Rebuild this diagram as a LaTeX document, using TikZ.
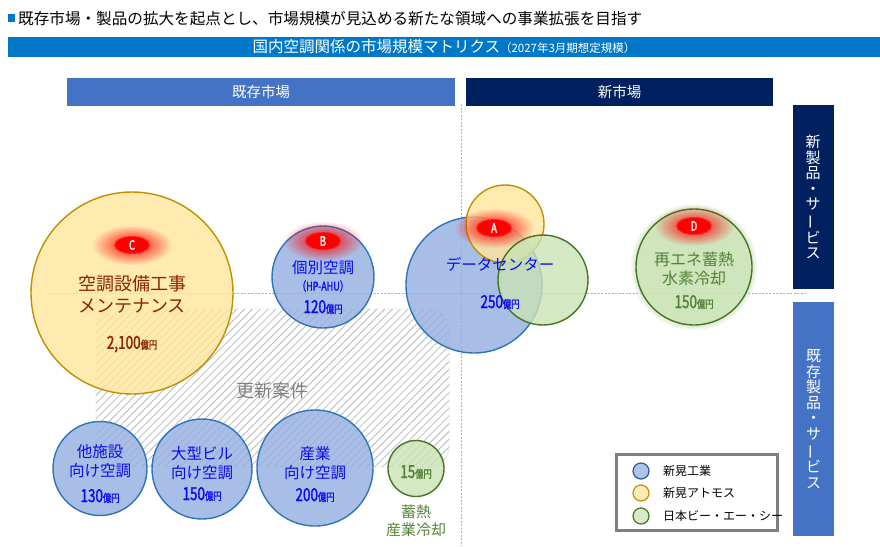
\documentclass[tikz,border=0pt]{standalone}
\usepackage{fontspec}
\setmainfont{Noto Sans CJK JP}
\newfontfamily\numfont{Noto Sans CJK JP}[FakeStretch=0.75,FakeBold=1.5]
\usepackage{tikz}
\usetikzlibrary{fadings,patterns.meta}

\definecolor{titleblue}{RGB}{0,120,200}
\definecolor{oldblue}{RGB}{68,114,196}
\definecolor{navy}{RGB}{0,32,96}
\definecolor{sbfill}{RGB}{148,174,224}
\definecolor{sbline}{RGB}{46,117,182}
\definecolor{ayfill}{RGB}{255,229,156}
\definecolor{ayline}{RGB}{191,144,0}
\definecolor{bacfill}{RGB}{202,226,181}
\definecolor{bacline}{RGB}{70,115,40}
\definecolor{bactext}{RGB}{84,130,53}
\definecolor{sbtext}{RGB}{10,10,240}
\definecolor{aytext}{RGB}{140,36,0}
\definecolor{guide}{RGB}{175,175,175}

\tikzfading[name=blobfade, inner color=transparent!0, outer color=transparent!100]

\newcommand{\okuen}[1]{{\numfont\fontsize{18}{18}\selectfont #1}{\numfont\fontsize{11}{11}\selectfont 億円}}
\newcommand{\tatebar}{\rotatebox[origin=c]{90}{ー}}

\tikzset{
  header/.style={fill=#1, text=white, minimum height=28pt, inner sep=0pt, font=\fontsize{14.5}{14.5}\selectfont},
  sidebar/.style={fill=#1, text=white, minimum width=41pt, inner sep=0pt, align=center, font=\fontsize{15}{15.6}\selectfont},
  bubble/.style={circle, inner sep=0pt, line width=1.4pt, fill opacity=0.8},
  sbbubble/.style={bubble, draw=sbline, fill=sbfill},
  aybubble/.style={bubble, draw=ayline, fill=ayfill},
  bacbubble/.style={bubble, draw=bacline, fill=bacfill},
  blobhalo/.style={red, path fading=blobfade},
  blobtag/.style={text=white, inner sep=0pt, font=\numfont\fontsize{13}{13}\selectfont},
  sblabel/.style={text=sbtext, align=center, inner sep=0pt, font=\fontsize{15.5}{19}\selectfont},
  keydot/.style={circle, inner sep=0pt, minimum size=16pt, line width=1.2pt},
  keytext/.style={anchor=west, inner sep=0pt, font=\fontsize{12}{12}\selectfont},
  guideline/.style={guide, line width=0.8pt, dash pattern=on 2pt off 1.5pt}
}

\newcommand{\redblob}[2]{%
  \fill[blobhalo] (#1,#2) ellipse [x radius=40pt, y radius=20pt];
  \fill[red, opacity=0.6] (#1,#2) ellipse [x radius=18pt, y radius=9pt];
  \fill[red] (#1,#2) ellipse [x radius=16.5pt, y radius=8pt];}

\begin{document}
\begin{tikzpicture}[x=1pt, y=-1pt]
\useasboundingbox (0,0) rectangle (880,546);

\fill[titleblue] (8,14) rectangle (15,22);
\node[anchor=west, inner sep=0pt, font=\fontsize{15.6}{16}\selectfont] (title) at (18,19) {既存市場・製品の拡大を起点とし、市場規模が見込める新たな領域への事業拡張を目指す};
\node[fill=titleblue, text=white, minimum width=872pt, minimum height=20pt, inner sep=0pt] (banner) at (444,47) {\fontsize{15.5}{15.5}\selectfont 国内空調関係の市場規模マトリクス{\fontsize{11.5}{11.5}\selectfont （2027年3月期想定規模）}};

\node[header=oldblue, minimum width=388pt] (oldmarket) at (261,92) {既存市場};
\node[header=navy, minimum width=307pt] (newmarket) at (619.5,92) {新市場};
\node[sidebar=navy, minimum height=184pt] (newprod) at (813,197) {新\\製\\品\\・\\サ\\\tatebar\\ビ\\ス};
\node[sidebar=oldblue, minimum height=234pt] (oldprod) at (813.5,419) {既\\存\\製\\品\\・\\サ\\\tatebar\\ビ\\ス};

\draw[guideline] (461,104) -- (461,546);
\draw[guideline] (48,293) -- (806,293);

\draw[draw=gray!35, pattern={Lines[angle=45, distance=5.5pt, line width=0.8pt]}, pattern color=gray!55, rounded corners=20pt] (96,309) rectangle (449,467);
\node[text=gray, font=\fontsize{18}{18}\selectfont] (renewal) at (272,391) {更新案件};

\node[aybubble, minimum size=202pt] (maint) at (132,293) {};
\redblob{132}{245}
\node[blobtag] (tagC) at (132,245) {C};
\node[text=aytext, align=center, inner sep=0pt, font=\fontsize{18}{22}\selectfont] (maintlabel) at (132,294) {空調設備工事\\メンテナンス};
\node[text=aytext, inner sep=0pt] (maintsize) at (132,344) {\okuen{2,100}};

\node[sbbubble, minimum size=102pt] (split) at (323,277) {};
\redblob{323}{241}
\node[blobtag] (tagB) at (323,241) {B};
\node[sblabel] (splitlabel) at (323,268) {個別空調};
\node[text=sbtext, inner sep=0pt, font=\numfont\fontsize{12}{12}\selectfont] (splitsub) at (323,286) {（HP-AHU）};
\node[text=sbtext, inner sep=0pt] (splitsize) at (323,307) {\okuen{120}};

\node[sbbubble, minimum size=136pt] (dcsb) at (474,285) {};
\node[aybubble, minimum size=78pt] (dcay) at (505,224) {};
\node[bacbubble, minimum size=90pt] (dcbac) at (543,280) {};
\redblob{494}{228}
\node[blobtag] (tagA) at (494,228) {A};
\node[sblabel] (dclabel) at (500,264) {データセンター};
\node[text=sbtext, inner sep=0pt] (dcsize) at (500,302) {\okuen{250}};

\fill[bacfill, opacity=0.25] (694,267) circle (63pt);
\fill[bacfill, opacity=0.35] (694,267) circle (61pt);
\node[bacbubble, minimum size=116pt] (hydro) at (694,267) {};
\redblob{694}{226}
\node[blobtag] (tagD) at (694,226) {D};
\node[text=bactext, align=center, inner sep=0pt, font=\fontsize{16}{19}\selectfont] (hydrolabel) at (694,268.5) {再エネ蓄熱\\水素冷却};
\node[text=bactext, inner sep=0pt] (hydrosize) at (694,302) {\okuen{150}};

\node[sbbubble, minimum size=94pt] (facility) at (100,468.5) {};
\node[sblabel] (facilitylabel) at (100,461.5) {他施設\\向け空調};
\node[text=sbtext, inner sep=0pt] (facilitysize) at (100,496) {\okuen{130}};

\node[sbbubble, minimum size=100pt] (building) at (202,469) {};
\node[sblabel] (buildinglabel) at (202,463.5) {大型ビル\\向け空調};
\node[text=sbtext, inner sep=0pt] (buildingsize) at (202,494) {\okuen{150}};

\node[sbbubble, minimum size=116pt] (industry) at (315,468) {};
\node[sblabel] (industrylabel) at (315,463.5) {産業\\向け空調};
\node[text=sbtext, inner sep=0pt] (industrysize) at (315,495) {\okuen{200}};

\node[bacbubble, minimum size=56pt] (storage) at (416,468.5) {};
\node[text=bactext, inner sep=0pt] (storagesize) at (416,472) {\okuen{15}};
\node[text=bactext, align=center, inner sep=0pt, font=\fontsize{15}{18}\selectfont] (storagelabel) at (416,521) {蓄熱\\産業冷却};

\node[draw=gray, line width=3pt, fill=white, minimum width=161pt, minimum height=76pt, inner sep=0pt] (legend) at (697,492.5) {};
\node[keydot, draw=sbline!80!black, fill=sbfill!75!white] (keysb) at (641,471) {};
\node[keydot, draw=ayline, fill=ayfill!75!white] (keyay) at (641,493) {};
\node[keydot, draw=bacline, fill=bacfill!75!white] (keybac) at (641,516) {};
\node[keytext] (keysbtext) at (663,471) {新晃工業};
\node[keytext] (keyaytext) at (663,493) {新晃アトモス};
\node[keytext] (keybactext) at (663,516) {日本ビー・エー・シー};
\end{tikzpicture}
\end{document}
